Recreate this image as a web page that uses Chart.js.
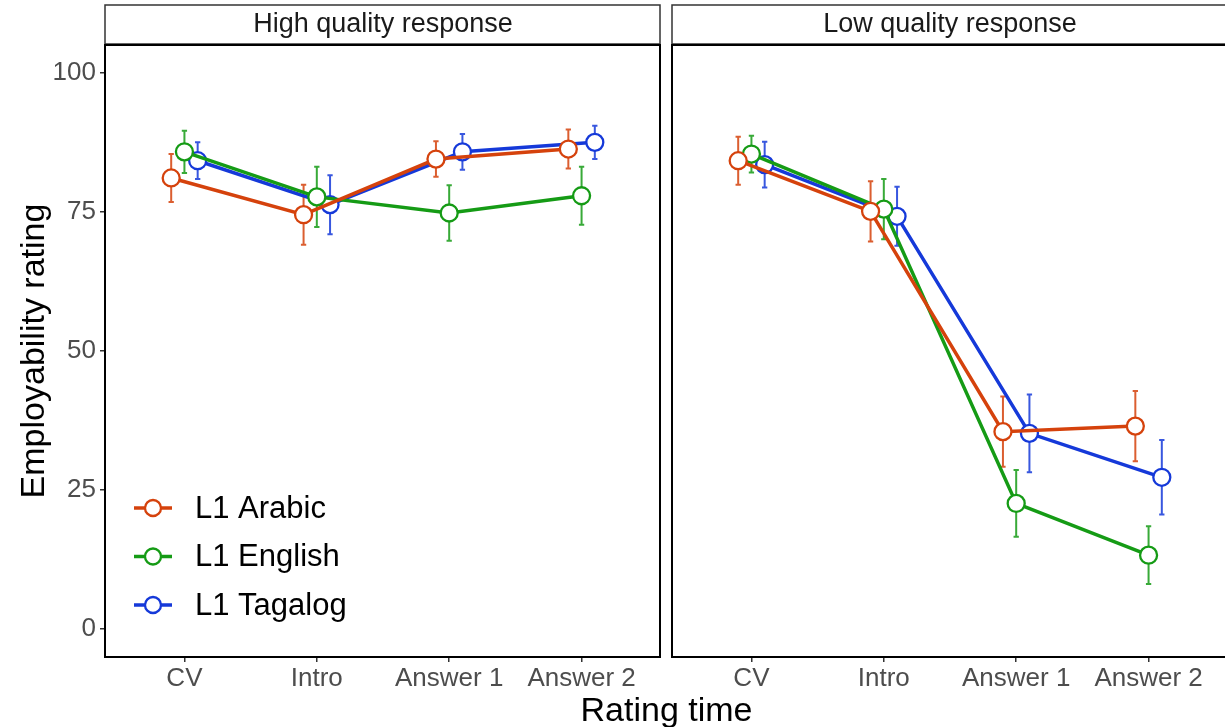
<!DOCTYPE html>
<html>
<head>
<meta charset="utf-8">
<script src="https://cdn.jsdelivr.net/npm/chart.js@4"></script>
<style>
  html, body { margin: 0; padding: 0; background: #fff; overflow: hidden; }
  body { width: 1225px; height: 727px; position: relative; font-family: "Liberation Sans", Arial, sans-serif; }
  .wrap { position: absolute; top: 0; height: 727px; }
  #xtitle { position: absolute; left: 105px; width: 1123px; top: 689px; text-align: center; font-size: 34px; line-height: 40px; color: #000; }
</style>
</head>
<body>
<div class="wrap" style="left:0;width:661px"><canvas id="high"></canvas></div>
<div class="wrap" style="left:662px;width:566px"><canvas id="low"></canvas></div>
<div id="xtitle">Rating time</div>
<script>
// Categories / series
const times = ["CV", "Intro", "Answer 1", "Answer 2"];
const panels = ["High quality response", "Low quality response"];
const groups = ["L1 Arabic", "L1 English", "L1 Tagalog"];
const colors = ["#D5420C", "#159B15", "#1539D9"];
const yTicks = [0, 25, 50, 75, 100];

// means, High quality response
const highArabic  = [81.1, 74.5, 84.5, 86.3];
const highEnglish = [85.8, 77.7, 74.8, 77.9];
const highTagalog = [84.2, 76.3, 85.8, 87.5];
// error half-widths, High
const highArabicErr  = [4.3, 5.4, 3.2, 3.5];
const highEnglishErr = [3.8, 5.4, 5.0, 5.2];
const highTagalogErr = [3.3, 5.3, 3.2, 3.0];

// means, Low quality response
const lowArabic  = [84.2, 75.1, 35.5, 36.5];
const lowEnglish = [85.4, 75.5, 22.6, 13.3];
const lowTagalog = [83.5, 74.2, 35.2, 27.3];
// error half-widths, Low
const lowArabicErr  = [4.3, 5.4, 6.3, 6.3];
const lowEnglishErr = [3.3, 5.4, 6.0, 5.2];
const lowTagalogErr = [4.1, 5.3, 7.0, 6.7];

const dodge = [-0.1, 0, 0.1];
const font = "'Liberation Sans', Arial, sans-serif";

function makeDatasets(series, errs) {
  return series.map((vals, g) => ({
    label: groups[g],
    data: vals.map((v, i) => ({ x: i + 1 + dodge[g], y: v, err: errs[g][i] })),
    borderColor: colors[g],
    backgroundColor: "#fff",
    borderWidth: 3.5,
    pointRadius: 8.5,
    pointBorderWidth: 2.3,
    pointBackgroundColor: "#fff",
    pointBorderColor: colors[g],
    tension: 0
  }));
}

// error bars drawn under the lines and points
const errorBars = {
  id: "errorBars",
  beforeDatasetsDraw(chart) {
    const ctx = chart.ctx, xs = chart.scales.x, ys = chart.scales.y;
    ctx.save();
    ctx.lineWidth = 2;
    ctx.globalAlpha = 0.85;
    chart.data.datasets.forEach(ds => {
      ctx.strokeStyle = ds.borderColor;
      ds.data.forEach(p => {
        const x = xs.getPixelForValue(p.x);
        const y1 = ys.getPixelForValue(p.y + p.err);
        const y2 = ys.getPixelForValue(p.y - p.err);
        const cap = xs.getPixelForValue(p.x + 0.02) - x;
        ctx.beginPath();
        ctx.moveTo(x, y1); ctx.lineTo(x, y2);
        ctx.moveTo(x - cap, y1); ctx.lineTo(x + cap, y1);
        ctx.moveTo(x - cap, y2); ctx.lineTo(x + cap, y2);
        ctx.stroke();
      });
    });
    ctx.restore();
  }
};

// panel border and facet strip
const panelFrame = {
  id: "panelFrame",
  afterDraw(chart, args, opts) {
    const ctx = chart.ctx, a = chart.chartArea;
    ctx.save();
    ctx.strokeStyle = "#333";
    ctx.lineWidth = 1.5;
    ctx.strokeRect(a.left, 5, a.right - a.left - 1, 39);
    ctx.fillStyle = "#1a1a1a";
    ctx.font = "27px " + font;
    ctx.textAlign = "center";
    ctx.textBaseline = "middle";
    ctx.fillText(opts.strip, (a.left + a.right) / 2, 25);
    ctx.strokeStyle = "#000";
    ctx.lineWidth = 2;
    ctx.strokeRect(a.left, a.top, a.right - a.left - 1, a.bottom - a.top);
    ctx.restore();
  }
};

// legend inside the lower left of the first panel
const insideLegend = {
  id: "insideLegend",
  afterDraw(chart, args, opts) {
    if (!opts.show) return;
    const ctx = chart.ctx;
    ctx.save();
    ctx.font = "31px " + font;
    ctx.textBaseline = "middle";
    chart.data.datasets.forEach((ds, i) => {
      const y = 508 + i * 48.5;
      ctx.strokeStyle = ds.borderColor;
      ctx.lineWidth = 3.5;
      ctx.beginPath(); ctx.moveTo(134, y); ctx.lineTo(172, y); ctx.stroke();
      ctx.lineWidth = 2.3;
      ctx.fillStyle = "#fff";
      ctx.beginPath(); ctx.arc(153, y, 8, 0, Math.PI * 2); ctx.fill(); ctx.stroke();
      ctx.fillStyle = "#000";
      ctx.fillText(ds.label, 195, y + 1);
    });
    ctx.restore();
  }
};

function makeChart(id, strip, datasets, showY) {
  return new Chart(document.getElementById(id), {
    type: "line",
    data: { datasets },
    plugins: [errorBars, panelFrame, insideLegend],
    options: {
      responsive: true,
      maintainAspectRatio: false,
      animation: false,
      layout: { autoPadding: false, padding: { top: 45, right: 0, left: 0, bottom: 0 } },
      plugins: {
        legend: { display: false },
        tooltip: { enabled: false },
        panelFrame: { strip },
        insideLegend: { show: showY }
      },
      scales: {
        x: {
          type: "linear",
          min: 0.4, max: 4.6,
          afterBuildTicks: s => { s.ticks = times.map((t, i) => ({ value: i + 1 })); },
          afterFit: s => { s.height = 70; s.paddingLeft = 0; s.paddingRight = 0; },
          ticks: {
            callback: v => times[v - 1],
            color: "#4d4d4d",
            font: { size: 26, family: font },
            padding: 1,
            maxRotation: 0
          },
          grid: { drawOnChartArea: false, drawTicks: true, tickLength: 5, color: "#333", lineWidth: 1.5 },
          border: { display: false }
        },
        y: {
          min: -5, max: 105,
          afterBuildTicks: s => { s.ticks = yTicks.map(v => ({ value: v })); },
          afterFit: s => { s.width = showY ? 105 : 10; s.paddingTop = 0; s.paddingBottom = 0; },
          ticks: {
            display: showY,
            color: "#4d4d4d",
            font: { size: 26, family: font },
            padding: 4
          },
          grid: { drawOnChartArea: false, drawTicks: showY, tickLength: 5, color: "#333", lineWidth: 1.5 },
          border: { display: false },
          title: {
            display: showY,
            text: "Employability rating",
            color: "#000",
            font: { size: 34, family: font },
            padding: { top: 14, bottom: 0 }
          }
        }
      }
    }
  });
}

makeChart("high", panels[0],
  makeDatasets([highArabic, highEnglish, highTagalog], [highArabicErr, highEnglishErr, highTagalogErr]), true);
makeChart("low", panels[1],
  makeDatasets([lowArabic, lowEnglish, lowTagalog], [lowArabicErr, lowEnglishErr, lowTagalogErr]), false);
</script>
</body>
</html>
